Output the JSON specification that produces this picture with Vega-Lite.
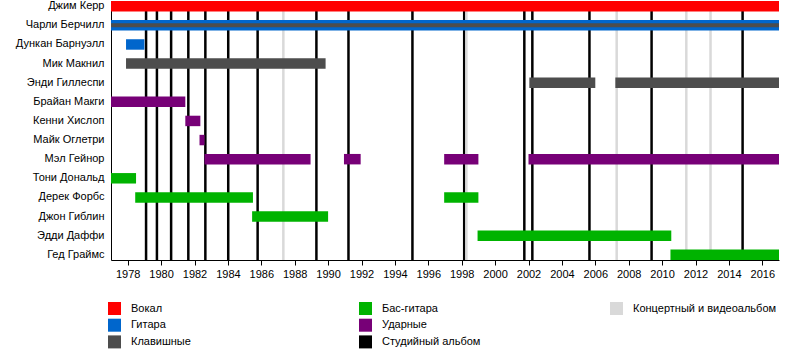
{
  "$schema": "https://vega.github.io/schema/vega-lite/v6.json",
  "width": 668,
  "height": 259,
  "autosize": {"type": "none"},
  "padding": {"left": 111, "top": 1, "right": 21, "bottom": 100},
  "background": "white",
  "config": {
    "view": {"stroke": null},
    "font": "Liberation Sans",
    "axis": {"labelFont": "Liberation Sans", "labelColor": "#000", "domainColor": "#000", "tickColor": "#000", "grid": false, "title": null},
    "axisX": {"labelOverlap": false, "labelFlush": false, "labelFont": "Liberation Sans Narrow, Liberation Sans", "labelFontSize": 11, "tickSize": 5, "labelPadding": 3}
  },
  "datasets": {
    "periods": [
      {"member": "Джим Керр", "role": "Вокал", "start": 1977, "end": 2017},
      {"member": "Чарли Берчилл", "role": "Гитара", "start": 1977, "end": 2017},
      {"member": "Дункан Барнуэлл", "role": "Гитара", "start": 1977.9, "end": 1979.0},
      {"member": "Мик Макнил", "role": "Клавишные", "start": 1977.9, "end": 1989.85},
      {"member": "Энди Гиллеспи", "role": "Клавишные", "start": 2002.05, "end": 2006.0},
      {"member": "Энди Гиллеспи", "role": "Клавишные", "start": 2007.2, "end": 2017},
      {"member": "Брайан Макги", "role": "Ударные", "start": 1977, "end": 1981.45},
      {"member": "Кенни Хислоп", "role": "Ударные", "start": 1981.45, "end": 1982.35},
      {"member": "Майк Оглетри", "role": "Ударные", "start": 1982.3, "end": 1982.6},
      {"member": "Мэл Гейнор", "role": "Ударные", "start": 1982.6, "end": 1988.95},
      {"member": "Мэл Гейнор", "role": "Ударные", "start": 1990.95, "end": 1991.95},
      {"member": "Мэл Гейнор", "role": "Ударные", "start": 1996.95, "end": 1999.0},
      {"member": "Мэл Гейнор", "role": "Ударные", "start": 2002.0, "end": 2017},
      {"member": "Тони Дональд", "role": "Бас-гитара", "start": 1977, "end": 1978.5},
      {"member": "Дерек Форбс", "role": "Бас-гитара", "start": 1978.45, "end": 1985.5},
      {"member": "Дерек Форбс", "role": "Бас-гитара", "start": 1996.95, "end": 1999.0},
      {"member": "Джон Гиблин", "role": "Бас-гитара", "start": 1985.45, "end": 1990.0},
      {"member": "Эдди Даффи", "role": "Бас-гитара", "start": 1998.95, "end": 2010.55},
      {"member": "Гед Граймс", "role": "Бас-гитара", "start": 2010.5, "end": 2017}
    ],
    "secondary": [
      {"member": "Чарли Берчилл", "role": "Клавишные", "start": 1977, "end": 2017}
    ],
    "albums": [
      {"year": 1979.1, "role": "Студийный альбом"},
      {"year": 1979.75, "role": "Студийный альбом"},
      {"year": 1980.6, "role": "Студийный альбом"},
      {"year": 1981.63, "role": "Студийный альбом"},
      {"year": 1982.65, "role": "Студийный альбом"},
      {"year": 1984.02, "role": "Студийный альбом"},
      {"year": 1985.78, "role": "Студийный альбом"},
      {"year": 1989.3, "role": "Студийный альбом"},
      {"year": 1991.22, "role": "Студийный альбом"},
      {"year": 1995.05, "role": "Студийный альбом"},
      {"year": 1998.15, "role": "Студийный альбом"},
      {"year": 2001.75, "role": "Студийный альбом"},
      {"year": 2002.23, "role": "Студийный альбом"},
      {"year": 2005.65, "role": "Студийный альбом"},
      {"year": 2009.37, "role": "Студийный альбом"},
      {"year": 2014.82, "role": "Студийный альбом"},
      {"year": 1987.32, "role": "Концертный и видеоальбом"},
      {"year": 1998.28, "role": "Концертный и видеоальбом"},
      {"year": 2007.28, "role": "Концертный и видеоальбом"},
      {"year": 2011.45, "role": "Концертный и видеоальбом"},
      {"year": 2012.9, "role": "Концертный и видеоальбом"}
    ]
  },
  "encoding": {
    "x": {"type": "quantitative", "scale": {"domain": [1977, 2017], "nice": false, "zero": false},
      "axis": {"values": [1978,1980,1982,1984,1986,1988,1990,1992,1994,1996,1998,2000,2002,2004,2006,2008,2010,2012,2014,2016], "format": "d", "labelOverlap": false, "domainWidth": 1}},
    "color": {"field": "role", "type": "nominal",
      "scale": {
        "domain": ["Вокал", "Гитара", "Клавишные", "Бас-гитара", "Ударные", "Студийный альбом", "Концертный и видеоальбом", " "],
        "range": ["#ff0000", "#0066cc", "#4d4d4d", "#00b300", "#770077", "#000000", "#d9d9d9", "#ffffff"]
      },
      "legend": {"title": null, "orient": "none", "legendX": -3, "legendY": 301, "columns": 3, "gridAlign": "all", "columnPadding": 84, "rowPadding": 3.7, "symbolType": "square", "symbolSize": 169, "symbolStrokeWidth": 0, "symbolOpacity": 1, "labelFontSize": 11, "labelColor": "#000", "labelOffset": 10, "padding": 0, "labelLimit": 300}
    }
  },
  "layer": [
    {
      "data": {"name": "albums"},
      "mark": {"type": "rule", "strokeWidth": 2.5},
      "encoding": {
        "x": {"field": "year", "type": "quantitative"}
      }
    },
    {
      "data": {"name": "periods"},
      "mark": {"type": "bar", "cornerRadius": 0},
      "encoding": {
        "y": {"field": "member", "type": "nominal",
          "sort": ["Джим Керр", "Чарли Берчилл", "Дункан Барнуэлл", "Мик Макнил", "Энди Гиллеспи", "Брайан Макги", "Кенни Хислоп", "Майк Оглетри", "Мэл Гейнор", "Тони Дональд", "Дерек Форбс", "Джон Гиблин", "Эдди Даффи", "Гед Граймс"],
          "scale": {"paddingInner": 0.453, "paddingOuter": 0},
          "axis": {"ticks": false, "labelFontSize": 11, "labelPadding": 7, "domainWidth": 1}},
        "x": {"field": "start", "type": "quantitative"},
        "x2": {"field": "end"}
      }
    },
    {
      "data": {"name": "secondary"},
      "mark": {"type": "bar", "height": {"band": 0.38}},
      "encoding": {
        "y": {"field": "member", "type": "nominal", "sort": ["Джим Керр", "Чарли Берчилл", "Дункан Барнуэлл", "Мик Макнил", "Энди Гиллеспи", "Брайан Макги", "Кенни Хислоп", "Майк Оглетри", "Мэл Гейнор", "Тони Дональд", "Дерек Форбс", "Джон Гиблин", "Эдди Даффи", "Гед Граймс"]},
        "x": {"field": "start", "type": "quantitative"},
        "x2": {"field": "end"}
      }
    }
  ]
}
